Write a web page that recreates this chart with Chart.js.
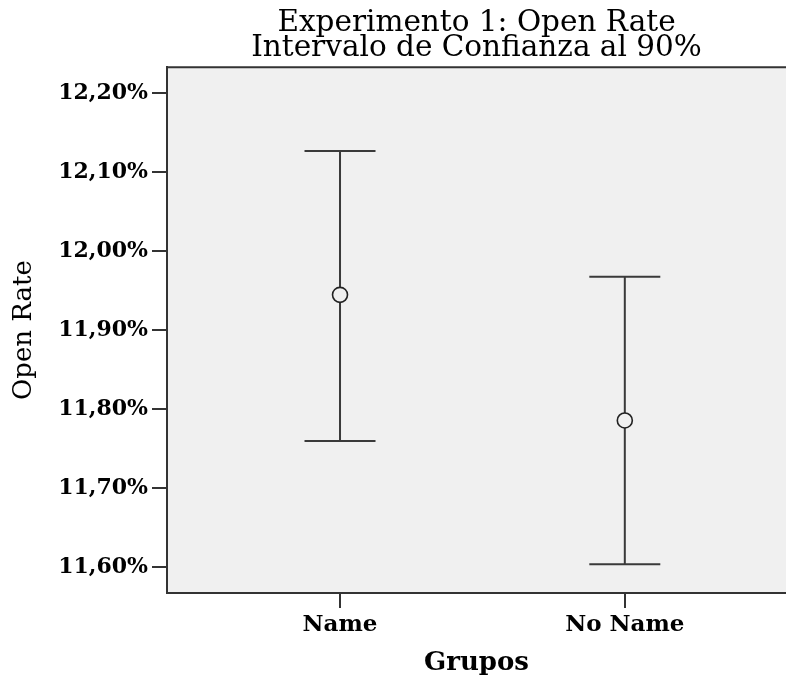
<!DOCTYPE html>
<html><head><meta charset="utf-8">
<script src="https://cdn.jsdelivr.net/npm/chart.js@4"></script>
<style>html,body{margin:0;padding:0;background:#fff}#wrap{width:786px;height:682px}</style>
</head><body><div id="wrap"><canvas id="c" width="786" height="682"></canvas></div>
<script>
const categories = ['Name', 'No Name'];
const means = [11.945, 11.786];
const upper = [12.127, 11.968];
const lower = [11.760, 11.604];
const yTicks = [11.60, 11.70, 11.80, 11.90, 12.00, 12.10, 12.20];
const yMin = 11.5675, yMax = 12.2333;
const xMin = 0.3925, xMax = 2.566;
const titleLines = ['Experimento 1: Open Rate', 'Intervalo de Confianza al 90%'];

const points = categories.map((c, i) => ({x: i + 1, y: means[i]}));
const BG = '#f0f0f0', INK = '#333';

const framePlugin = {
  id: 'frame',
  beforeDraw(chart) {
    const {ctx, chartArea: a} = chart;
    ctx.save(); ctx.fillStyle = BG;
    ctx.fillRect(a.left, a.top, a.right - a.left, a.bottom - a.top);
    ctx.restore();
  },
  beforeDatasetsDraw(chart) {
    const {ctx, scales: {x, y}} = chart;
    ctx.save(); ctx.strokeStyle = '#3a3a3a'; ctx.lineWidth = 2;
    categories.forEach((c, i) => {
      const px = x.getPixelForValue(i + 1);
      const pu = y.getPixelForValue(upper[i]);
      const pl = y.getPixelForValue(lower[i]);
      ctx.beginPath();
      ctx.moveTo(px, pu); ctx.lineTo(px, pl);
      ctx.moveTo(px - 35.5, pu); ctx.lineTo(px + 35.5, pu);
      ctx.moveTo(px - 35.5, pl); ctx.lineTo(px + 35.5, pl);
      ctx.stroke();
    });
    ctx.restore();
  },
  afterDraw(chart) {
    const {ctx, chartArea: a} = chart;
    ctx.save(); ctx.strokeStyle = INK; ctx.lineWidth = 2;
    ctx.beginPath(); ctx.moveTo(a.left, a.top); ctx.lineTo(a.right, a.top); ctx.stroke();
    ctx.restore();
  }
};

new Chart(document.getElementById('c'), {
  type: 'scatter',
  data: { datasets: [{
    data: points, clip: false,
    pointRadius: 7.5, pointHoverRadius: 7.5,
    pointBorderWidth: 1.6, pointBorderColor: '#222', pointBackgroundColor: BG
  }]},
  options: {
    responsive: false, animation: false, devicePixelRatio: 1,
    layout: { padding: 0, autoPadding: false },
    plugins: {
      legend: { display: false }, tooltip: { enabled: false },
      title: {
        display: true, text: titleLines, fullSize: false, color: '#000',
        font: { family: 'DejaVu Serif', size: 29.5, weight: 'normal', lineHeight: 0.85 },
        padding: { top: 11, bottom: 6 }
      }
    },
    scales: {
      x: {
        type: 'linear', min: xMin, max: xMax,
        afterBuildTicks(s) { s.ticks = categories.map((c, i) => ({value: i + 1})); },
        afterFit(s) { s.height = 89; s.paddingLeft = 0; s.paddingRight = 0; },
        ticks: { callback: v => categories[v - 1], color: '#000', padding: 3, maxRotation: 0, autoSkip: false,
          font: { family: 'DejaVu Serif', size: 23, weight: 'bold' } },
        grid: { drawOnChartArea: false, drawTicks: true, tickLength: 15, color: INK, lineWidth: 2 },
        border: { display: true, color: INK, width: 2 },
        title: { display: true, text: 'Grupos', color: '#000', padding: { top: 4, bottom: 3 },
          font: { family: 'DejaVu Serif', size: 26, weight: 'bold' } }
      },
      y: {
        min: yMin, max: yMax,
        afterBuildTicks(s) { s.ticks = yTicks.map(v => ({value: v})); },
        afterFit(s) { s.width = 167; },
        ticks: { callback: v => v.toFixed(2).replace('.', ',') + '%', color: '#000', padding: 4,
          font: { family: 'DejaVu Serif', size: 22, weight: 'bold' } },
        grid: { drawOnChartArea: false, drawTicks: true, tickLength: 15, color: INK, lineWidth: 2 },
        border: { display: true, color: INK, width: 2 },
        title: { display: true, text: 'Open Rate', color: '#000', padding: { top: 9, bottom: 0 },
          font: { family: 'DejaVu Serif', size: 26, weight: 'normal' } }
      }
    }
  },
  plugins: [framePlugin]
});
</script></body></html>
